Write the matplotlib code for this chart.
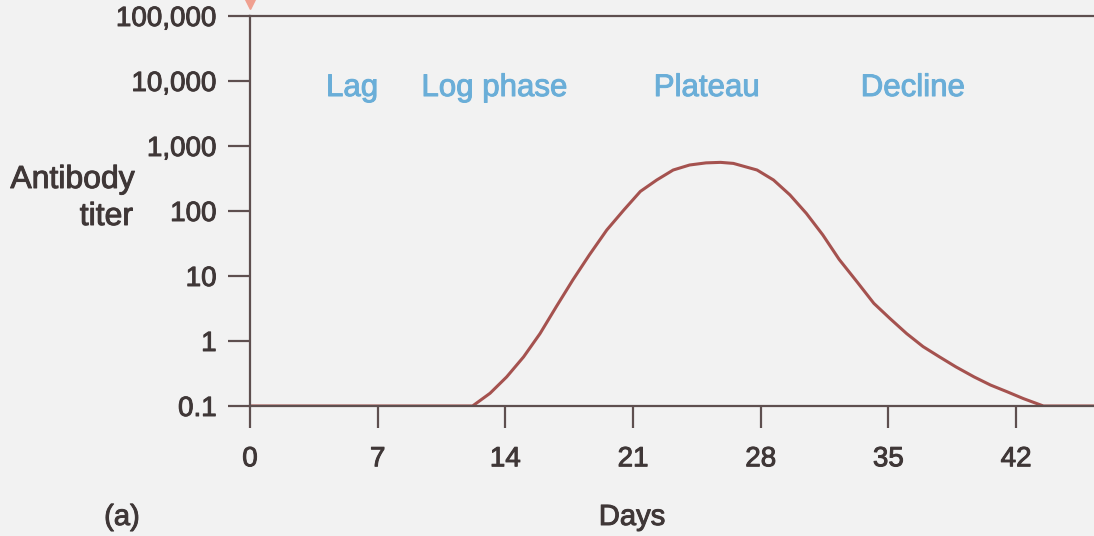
import matplotlib.pyplot as plt
import matplotlib.patheffects as pe
from matplotlib.ticker import NullLocator

# antibody titer (days, titer)
days = [0, 12.2, 13.16, 14.07, 15.0, 15.9, 16.8, 17.7, 18.6, 19.56, 20.5,
        21.4, 22.3, 23.2, 24.1, 25.0, 25.8, 26.5, 27.8, 28.7, 29.6, 30.5,
        31.4, 32.3, 33.3, 34.2, 35.1, 36.0, 36.9, 37.8, 38.7, 39.7, 40.6,
        41.5, 42.4, 43.5, 46.3]
titer = [0.1, 0.1, 0.157, 0.28, 0.57, 1.3, 3.4, 8.7, 21, 51, 104,
         200, 300, 427, 510, 550, 560, 540, 427, 300, 177, 92,
         43, 18, 8, 3.8, 2.2, 1.3, 0.82, 0.57, 0.4, 0.28, 0.21,
         0.166, 0.13, 0.1, 0.1]

x_ticks = [0, 7, 14, 21, 28, 35, 42]
y_ticks = [0.1, 1, 10, 100, 1000, 10000, 100000]
y_labels = ["0.1", "1", "10", "100", "1,000", "10,000", "100,000"]

phase_names = ["Lag", "Log phase", "Plateau", "Decline"]
phase_days = [5.6, 13.4, 25.05, 36.35]

bg = "#f2f2f2"
axis_col = "#5e4f4f"
text_col = "#3f3737"
curve_col = "#a5524f"
phase_col = "#6aaed8"

plt.rcParams["font.family"] = ["Liberation Sans", "DejaVu Sans"]

fig = plt.figure(figsize=(10.94, 5.36), dpi=100, facecolor=bg)
ax = fig.add_axes([250 / 1094, 1 - 406 / 536, 1 - 250 / 1094, 390 / 536])
ax.set_facecolor(bg)

ax.plot(days, titer, color=curve_col, lw=2.2, solid_joinstyle="round",
        solid_capstyle="round")

ax.set_yscale("log")
ax.set_xlim(0, 844 / 18.24)
ax.set_ylim(0.1, 100000)
ax.set_yticks(y_ticks, y_labels)
ax.yaxis.set_minor_locator(NullLocator())
ax.set_xticks(x_ticks)

for side in ["left", "bottom", "top"]:
    ax.spines[side].set_color(axis_col)
    ax.spines[side].set_linewidth(1.6)
ax.spines["right"].set_visible(False)

ax.tick_params(axis="y", direction="out", length=16, width=1.6, color=axis_col,
               labelsize=20, labelcolor=text_col, pad=8)
ax.tick_params(axis="x", direction="out", length=16, width=1.6, color=axis_col,
               labelsize=20, labelcolor=text_col, pad=13)

# slightly heavier text, like the printed figure
bold_fx = [pe.withStroke(linewidth=0.7, foreground=text_col)]
for lab in ax.get_xticklabels() + ax.get_yticklabels():
    lab.set_path_effects(bold_fx)

for name, d in zip(phase_names, phase_days):
    ax.text(d, 7800, name, color=phase_col, fontsize=22.5, ha="center",
            va="center",
            path_effects=[pe.withStroke(linewidth=0.7, foreground=phase_col)])

# y axis label in two lines, right aligned
fig.text(135 / 1094, 1 - 180 / 536, "Antibody", fontsize=23, color=text_col,
         ha="right", va="center", path_effects=bold_fx)
fig.text(133 / 1094, 1 - 217 / 536, "titer", fontsize=23, color=text_col,
         ha="right", va="center", path_effects=bold_fx)
fig.text(632 / 1094, 1 - 517 / 536, "Days", fontsize=21, color=text_col,
         ha="center", va="center", path_effects=bold_fx)
fig.text(122 / 1094, 1 - 517 / 536, "(a)", fontsize=21, color=text_col,
         ha="center", va="center", path_effects=bold_fx)

# small injection marker at day 0, cut by the top edge
ax.plot([0], [1.038], transform=ax.get_xaxis_transform(), marker="v",
        markersize=11, color="#f0a090", clip_on=False, linestyle="none")

fig.savefig("out.png", dpi=100, facecolor=bg)
